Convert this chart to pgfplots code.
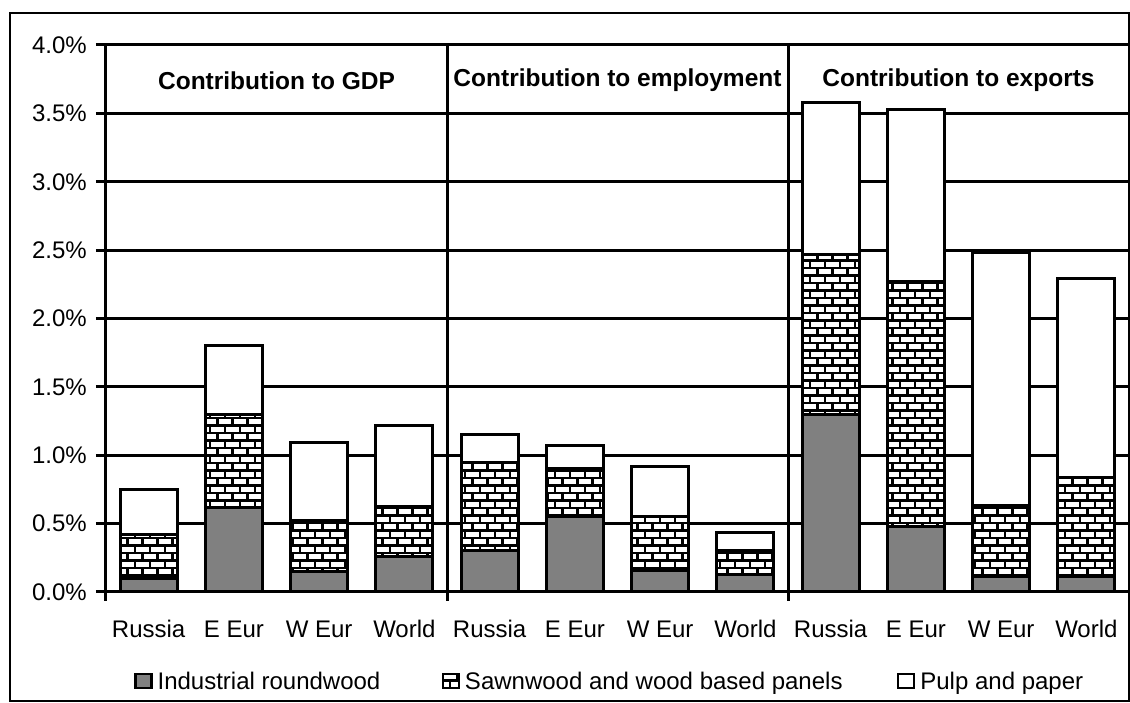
\documentclass[border=0pt]{standalone}
\usepackage{pgfplots}
\pgfplotsset{compat=1.18}
\usepackage{pgfplotstable}
\usepackage{fontspec}
\setmainfont{Liberation Sans}
\usetikzlibrary{patterns}
\newcommand{\fs}{\fontsize{24pt}{28pt}\selectfont}
\newcommand{\fsb}{\fontsize{24.5pt}{28pt}\selectfont\bfseries}
\definecolor{irgray}{RGB}{128,128,128}
\pgfdeclarepatternformonly{mybricks}{\pgfqpoint{-1pt}{-1pt}}{\pgfqpoint{16pt}{16pt}}{\pgfqpoint{15pt}{15pt}}{%
  \pgfsetlinewidth{2.1pt}%
  \pgfpathmoveto{\pgfqpoint{0pt}{0pt}}\pgfpathlineto{\pgfqpoint{15pt}{0pt}}%
  \pgfpathmoveto{\pgfqpoint{0pt}{7.5pt}}\pgfpathlineto{\pgfqpoint{15pt}{7.5pt}}%
  \pgfpathmoveto{\pgfqpoint{0pt}{0pt}}\pgfpathlineto{\pgfqpoint{0pt}{7.5pt}}%
  \pgfpathmoveto{\pgfqpoint{7.5pt}{7.5pt}}\pgfpathlineto{\pgfqpoint{7.5pt}{15pt}}%
  \pgfusepath{stroke}}

\pgfplotstableread{
x ir sw pp
0 0.10 0.32 0.33
1 0.62 0.68 0.50
2 0.15 0.375 0.565
3 0.26 0.365 0.595
4 0.30 0.65 0.20
5 0.55 0.35 0.17
6 0.16 0.395 0.365
7 0.13 0.17 0.135
8 1.30 1.17 1.11
9 0.48 1.79 1.26
10 0.11 0.52 1.85
11 0.11 0.725 1.455
}\data

\begin{document}
\begin{tikzpicture}
\useasboundingbox (-106pt,-111pt) rectangle (1024pt,592pt);
\draw[line width=1.3pt] (-96pt,-109pt) rectangle (1023pt,579pt);
\begin{axis}[
  at={(0,0)}, anchor=south west,
  scale only axis, width=1023pt, height=547pt,
  xmin=-0.5, xmax=11.5, ymin=0, ymax=4,
  clip=false,
  ybar stacked, bar width=57pt,
  axis lines*=left,
  axis line style={-, line width=3pt, black},
  xtick={0,...,11},
  xticklabels={Russia,E Eur,W Eur,World,Russia,E Eur,W Eur,World,Russia,E Eur,W Eur,World},
  xtick style={draw=none},
  ytick={0,0.5,...,4},
  yticklabel={\pgfmathprintnumber[fixed,fixed zerofill,precision=1,assume math mode=true]{\tick}\%},
  tick align=outside,
  major tick length=10pt,
  ytick style={line width=3pt, black},
  ymajorgrids,
  major grid style={black, line width=3pt},
  tick label style={font=\fs},
  xticklabel style={anchor=center, text height=17pt, text depth=0pt, inner sep=0pt, yshift=-27pt},
  yticklabel style={anchor=east, inner sep=0pt, xshift=-9pt},
  legend columns=3,
  legend style={at={(axis description cs:0,0)}, anchor=west, xshift=28pt, yshift=-89pt,
    draw=none, fill=none, font=\fs, inner sep=0pt, column sep=0pt,
    nodes={inner sep=0pt, text depth=0pt}},
  legend image code/.code={\draw[#1, line width=2.4pt] (1pt,-7pt) rectangle (17pt,7pt);},
]
\addplot[fill=irgray, draw=black, line width=3pt] table[x=x,y=ir]{\data};
\addlegendentry{\hspace{5pt}\makebox[284pt][l]{Industrial roundwood}}
\addplot[fill=white, draw=black, line width=3pt, postaction={pattern=mybricks}] table[x=x,y=sw]{\data};
\addlegendentry{\hspace{5pt}\makebox[432pt][l]{Sawnwood and wood based panels}}
\addplot[fill=white, draw=black, line width=3pt] table[x=x,y=pp]{\data};
\addlegendentry{\hspace{5pt}Pulp and paper}
\draw[line width=3pt] (axis cs:-0.5,0) ++(0pt,-9pt) -- (axis cs:-0.5,0);
\draw[line width=3pt] (axis cs:3.5,0) ++(0pt,-9pt) -- (axis cs:3.5,4);
\draw[line width=3pt] (axis cs:7.5,0) ++(0pt,-9pt) -- (axis cs:7.5,4);
\draw[line width=3pt] (axis cs:11.5,0) ++(0pt,-9pt) -- (axis cs:11.5,4);
\node[font=\fsb] at (axis cs:1.5,3.74) {Contribution to GDP};
\node[font=\fsb] at (axis cs:5.5,3.74) {Contribution to employment};
\node[font=\fsb] at (axis cs:9.5,3.74) {Contribution to exports};
\end{axis}
\end{tikzpicture}
\end{document}
